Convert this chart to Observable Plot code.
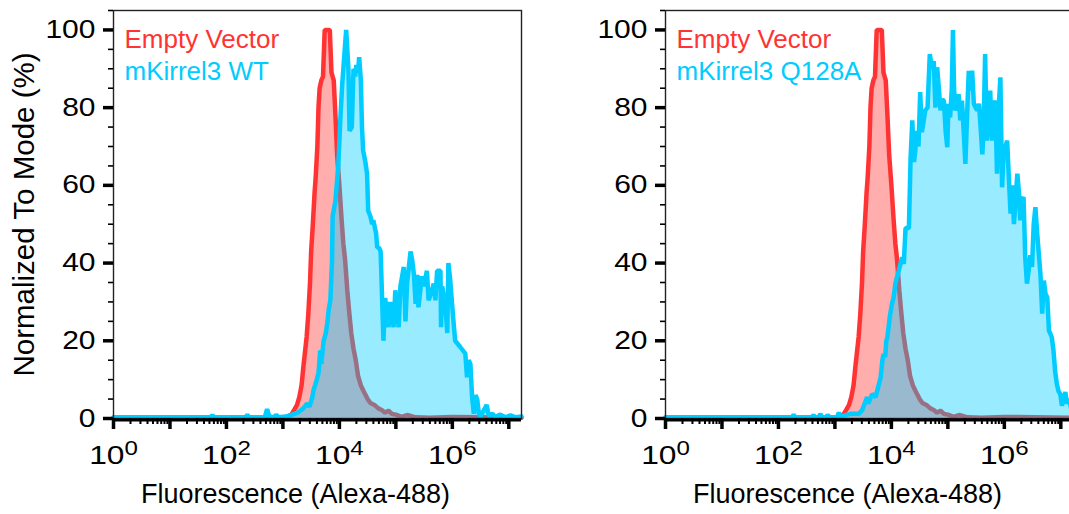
<!DOCTYPE html>
<html>
<head>
<meta charset="utf-8">
<script src="https://cdn.jsdelivr.net/npm/d3@7"></script>
<script src="https://cdn.jsdelivr.net/npm/@observablehq/plot@0.6"></script>
<style>
  body { margin: 0; background: #fff; }
  #wrap { position: relative; width: 1069px; height: 514px; overflow: hidden; background: #fff; }
  #wrap svg { position: absolute; top: 0; }
</style>
</head>
<body>
<div id="wrap"></div>
<script>
// ---- data: [log10(fluorescence), % of mode] ----
const emptyVector = [
  [0, 0.2], [3.0, 0.2], [3.08, 0.5], [3.15, 1.0], [3.20, 2.2], [3.25, 3.5], [3.29, 5.5], [3.33, 8.5],
  [3.36, 13], [3.39, 17], [3.42, 21], [3.45, 27], [3.48, 35], [3.50, 43], [3.53, 50], [3.56, 58],
  [3.58, 62], [3.61, 70], [3.63, 80], [3.65, 85], [3.68, 87], [3.71, 88], [3.74, 100], [3.83, 100],
  [3.86, 89], [3.90, 87], [3.93, 78], [3.96, 68], [4.00, 60], [4.04, 51], [4.07, 45], [4.10, 41],
  [4.14, 33], [4.17, 28], [4.21, 22], [4.25, 18], [4.29, 15], [4.33, 11], [4.38, 8.5], [4.43, 7],
  [4.50, 5], [4.55, 4], [4.62, 3.5], [4.69, 2.6], [4.75, 2.2], [4.81, 1.5], [4.87, 2.0], [4.93, 1.2],
  [5.00, 1.0], [5.10, 0.4], [5.20, 0.9], [5.35, 0.3], [5.60, 0.2], [6.00, 0.4], [7.225, 0.2]
];
const kirrelWT = [
  [0, 0.3], [1.72, 0.3], [1.75, 0.9], [1.78, 0.3], [2.34, 0.3], [2.37, 1.0], [2.40, 0.3], [2.68, 0.4],
  [2.72, 2.4], [2.76, 0.5], [2.85, 0.3], [2.88, 1.0], [2.92, 0.3], [3.05, 0.5], [3.13, 0.8], [3.20, 1.2],
  [3.27, 1.6], [3.36, 2.6], [3.43, 3.9], [3.47, 3.0], [3.52, 5.4], [3.54, 7.2], [3.58, 9], [3.63, 11.6],
  [3.66, 17.5], [3.68, 14], [3.72, 20], [3.76, 22], [3.79, 25], [3.81, 28], [3.84, 30.4], [3.87, 40.7],
  [3.88, 52], [3.93, 56], [3.98, 65], [4.02, 78], [4.05, 86], [4.09, 94], [4.12, 100], [4.16, 90],
  [4.18, 74], [4.22, 75], [4.25, 90], [4.28, 88], [4.30, 91], [4.33, 89], [4.35, 93], [4.38, 87],
  [4.40, 75], [4.42, 69], [4.46, 66], [4.49, 63], [4.51, 53.5], [4.55, 52], [4.58, 50], [4.60, 51],
  [4.63, 49], [4.65, 47.6], [4.67, 44], [4.70, 44], [4.73, 43], [4.78, 20], [4.81, 31], [4.87, 23.5],
  [4.90, 30], [4.96, 23.5], [4.99, 33], [5.05, 23.5], [5.08, 34], [5.14, 39], [5.17, 25], [5.20, 35],
  [5.26, 43], [5.29, 40.7], [5.32, 37], [5.35, 29.5], [5.38, 37], [5.40, 28.6], [5.46, 36.6], [5.49, 34],
  [5.55, 38], [5.58, 30.4], [5.64, 33], [5.67, 34.7], [5.70, 30.4], [5.73, 38], [5.79, 38], [5.80, 23.5],
  [5.82, 34], [5.88, 28.6], [5.91, 22], [5.93, 40], [5.96, 36], [6.02, 25], [6.05, 20], [6.14, 18.4],
  [6.23, 16.7], [6.26, 10.6], [6.29, 15], [6.32, 14], [6.35, 5.5], [6.38, 1.2], [6.41, 6], [6.44, 5],
  [6.47, 1.2], [6.50, 0.6], [6.61, 3.5], [6.64, 0.8], [6.71, 1.2], [6.76, 0.4], [6.85, 1], [6.94, 0.3],
  [7.03, 0.8], [7.12, 0.3], [7.225, 0.5]
];
const kirrelQ128A = [
  [0, 0.3], [2.24, 0.3], [2.27, 1.0], [2.30, 0.3], [2.59, 0.3], [2.62, 0.9], [2.65, 0.3], [2.72, 0.4],
  [2.74, 1.2], [2.77, 0.3], [2.85, 0.4], [2.87, 1.0], [2.90, 0.3], [3.04, 0.4], [3.07, 1.5], [3.10, 0.5],
  [3.27, 1.2], [3.42, 1.2], [3.48, 2.1], [3.57, 5.5], [3.59, 3.8], [3.66, 6.3], [3.72, 5.5], [3.78, 8.9],
  [3.81, 10.6], [3.84, 14.9], [3.86, 16.6], [3.89, 15.8], [3.91, 20], [3.93, 20.9], [3.97, 26], [4.01, 29.5],
  [4.04, 31.2], [4.07, 34.7], [4.10, 36.4], [4.13, 38], [4.16, 39.8], [4.19, 41.5], [4.22, 39.8], [4.25, 49],
  [4.31, 49], [4.34, 67], [4.37, 76.7], [4.40, 66], [4.42, 68.5], [4.45, 74], [4.48, 70], [4.51, 84],
  [4.54, 73.7], [4.60, 79.3], [4.64, 80], [4.68, 93.8], [4.72, 90], [4.75, 92], [4.78, 80], [4.81, 90.4],
  [4.84, 85], [4.87, 79.3], [4.90, 82], [4.93, 81.8], [4.96, 74], [4.99, 69.8], [5.01, 81], [5.04, 77.5],
  [5.07, 85], [5.09, 100], [5.11, 85], [5.13, 79.3], [5.16, 81], [5.19, 83.5], [5.22, 76.7], [5.25, 81.8],
  [5.28, 74], [5.31, 65.5], [5.34, 78], [5.37, 89.5], [5.40, 84.4], [5.43, 89.5], [5.46, 81], [5.49, 80],
  [5.52, 79.3], [5.55, 81], [5.58, 75], [5.61, 68], [5.63, 73.3], [5.66, 93.8], [5.69, 71.5], [5.72, 78],
  [5.75, 84.4], [5.78, 71.5], [5.81, 80], [5.84, 81.8], [5.87, 63], [5.90, 80], [5.93, 87.8], [5.96, 59.5],
  [5.99, 69], [6.02, 70], [6.05, 71.5], [6.08, 62], [6.11, 52.7], [6.14, 60], [6.17, 50], [6.23, 63],
  [6.26, 58], [6.28, 51], [6.31, 56], [6.34, 57], [6.37, 41.5], [6.40, 34.7], [6.43, 38], [6.46, 42],
  [6.49, 39], [6.52, 50], [6.55, 54.4], [6.58, 48], [6.61, 42.4], [6.64, 37], [6.67, 27], [6.70, 35.5],
  [6.73, 32], [6.76, 31.2], [6.79, 22.6], [6.81, 22], [6.84, 20.9], [6.87, 17.5], [6.90, 12], [6.93, 8.9],
  [6.96, 7], [6.99, 6.3], [7.02, 3.3], [7.05, 5], [7.08, 6.8], [7.11, 3.8], [7.15, 5], [7.19, 2], [7.225, 1]
];

// ---- axes / labels ----
const xMax = 2 ** 24;
const decades = [0, 1, 2, 3, 4, 5, 6, 7];
const labelledDecades = [0, 2, 4, 6];
const minorMultipliers = [2, 3, 4, 5, 6, 7, 8, 9];
const yMajor = [0, 20, 40, 60, 80, 100];
const yMinor = [5, 10, 15, 25, 30, 35, 45, 50, 55, 65, 70, 75, 85, 90, 95, 105];
const xTitle = "Fluorescence (Alexa-488)";
const yTitle = "Normalized To Mode (%)";
const legendControl = "Empty Vector";
const panels = [
  {series: kirrelWT, name: "mKirrel3 WT", yTitle: true},
  {series: kirrelQ128A, name: "mKirrel3 Q128A", yTitle: false}
];

const RED = "#ff3333";
const CYAN = "#00ccff";
const FONT = "'Liberation Sans', Arial, Helvetica, sans-serif";

function stretchText(svg, selector, sx) {
  d3.select(svg).selectAll(selector).each(function () {
    const t = this.getAttribute("transform");
    if (t && /translate/.test(t)) {
      this.setAttribute("transform", t + ` scale(${sx},1)`);
    } else {
      const x = +(this.getAttribute("x") || 0), y = +(this.getAttribute("y") || 0);
      this.removeAttribute("x"); this.removeAttribute("y");
      this.setAttribute("transform", `${t || ""} translate(${x},${y}) scale(${sx},1)`);
    }
  });
}

function panel({series, name, yTitle: withTitle}) {
  const ev = emptyVector.map(([e, p]) => ({x: 10 ** e, y: p}));
  const cy = series.map(([e, p]) => ({x: 10 ** e, y: p}));
  const xMinor = decades.flatMap(d => minorMultipliers.map(m => m * 10 ** d)).filter(v => v <= xMax);
  const svg = Plot.plot({
    width: 552,
    height: 514,
    marginTop: 10,
    marginRight: 31,
    marginBottom: 96,
    marginLeft: 113,
    style: {fontFamily: FONT, background: "transparent", color: "black"},
    x: {type: "log", domain: [1, xMax], axis: null},
    y: {domain: [0, 105], axis: null},
    marks: [
      Plot.areaY(ev, {x: "x", y: "y", fill: RED, fillOpacity: 0.4}),
      Plot.lineY(ev, {x: "x", y: "y", stroke: RED, strokeWidth: 4.5, strokeLinejoin: "miter"}),
      Plot.areaY(cy, {x: "x", y: "y", fill: CYAN, fillOpacity: 0.4}),
      Plot.lineY(cy, {x: "x", y: "y", stroke: CYAN, strokeWidth: 4.5, strokeLinejoin: "miter"}),
      Plot.frame({stroke: "#222", strokeWidth: 1.4}),
      Plot.ruleY([0], {stroke: "black", strokeWidth: 3, dy: 1.5}),
      Plot.axisX(xMinor, {tickSize: 6, strokeWidth: 2, tickFormat: () => "", label: null, stroke: "black"}),
      Plot.axisX(decades.map(d => 10 ** d), {
        tickSize: 11, strokeWidth: 3.5, tickPadding: 16, fontSize: 26, label: null, stroke: "black", fill: "black",
        tickFormat: v => {
          const k = Math.round(Math.log10(v));
          return labelledDecades.includes(k) ? `10^${k}` : "";
        }
      }),
      Plot.axisY(yMinor, {tickSize: 5, strokeWidth: 1.6, tickFormat: () => "", label: null, stroke: "black"}),
      Plot.axisY(yMajor, {
        tickSize: 10, strokeWidth: 3.5, tickPadding: 8, fontSize: 25, stroke: "black", fill: "black",
        label: withTitle ? yTitle : null, labelAnchor: "center", labelOffset: 100, labelArrow: "none"
      }),
      Plot.text([xTitle], {frameAnchor: "bottom", dx: -22, dy: 84, lineAnchor: "bottom", fontSize: 27, fill: "black"}),
      Plot.text([legendControl], {frameAnchor: "top-left", dx: 11, dy: 37, textAnchor: "start", lineAnchor: "bottom", fontSize: 26, fill: RED}),
      Plot.text([name], {frameAnchor: "top-left", dx: 11, dy: 69, textAnchor: "start", lineAnchor: "bottom", fontSize: 26, fill: CYAN})
    ]
  });
  // superscript exponents on the decade labels
  d3.select(svg).selectAll("text").each(function () {
    const m = /^10\^(\d+)$/.exec(this.textContent);
    if (m) {
      this.textContent = "10";
      const ts = document.createElementNS("http://www.w3.org/2000/svg", "tspan");
      ts.setAttribute("dy", "-0.45em");
      ts.setAttribute("font-size", "0.76em");
      ts.textContent = m[1];
      this.appendChild(ts);
    }
  });
  // the reference tick labels are set in a horizontally wide face
  stretchText(svg, 'g[aria-label="x-axis tick label"] text', 1.22);
  stretchText(svg, 'g[aria-label="y-axis tick label"] text', 1.2);
  d3.select(svg).selectAll('g[aria-label="y-axis label"] text').attr("font-size", 29.5);
  return svg;
}

const wrap = document.getElementById("wrap");
panels.forEach((p, i) => {
  const svg = panel(p);
  svg.style.left = (i * 552) + "px";
  wrap.appendChild(svg);
});
</script>
</body>
</html>
